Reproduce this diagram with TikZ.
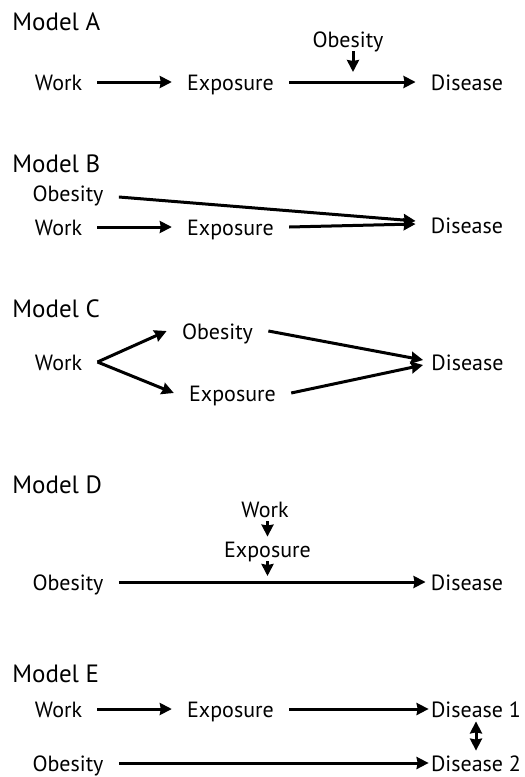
\documentclass[tikz,border=0pt]{standalone}
\usepackage{fontspec}
\setmainfont{PT Sans}
\usetikzlibrary{positioning, arrows.meta}
\tikzstyle{title} = [anchor=base west, inner sep=0pt, font=\fontsize{12.5}{14}\selectfont]
\tikzstyle{var} = [inner xsep=7.5pt, inner ysep=2pt, text height=8pt, text depth=0pt, font=\fontsize{11}{13}\selectfont]
\tikzstyle{arrow} = [line width=1.5pt, -{Stealth[length=6pt,width=6pt,inset=0.5pt]}]
\tikzstyle{dblarrow} = [line width=1.5pt, {Stealth[length=6pt,width=6pt,inset=0.5pt]}-{Stealth[length=6pt,width=6pt,inset=0.5pt]}]

\begin{document}
\begin{tikzpicture}[x=0.5pt, y=-0.5pt]
\useasboundingbox (0,0) rectangle (525,777);

%Model A
\node (tA) [title] at (12,30) {Model A};
\node (wA) [var] at (58.5,82) {Work};
\node (eA) [var] at (230.5,82) {Exposure};
\node (dA) [var] at (467,82) {Disease};
\node (oA) [var] at (348,39) {Obesity};
\coordinate (aA) at (353,72);
\draw [arrow] (wA) -- (eA);
\draw [arrow] (eA) -- (dA);
\draw [arrow] (oA.south -| aA) -- (aA);

%Model B
\node (tB) [title] at (12,172) {Model B};
\node (oB) [var] at (68,193) {Obesity};
\node (wB) [var] at (58.5,227) {Work};
\node (eB) [var] at (230.5,227) {Exposure};
\node (dB) [var] at (467,225) {Disease};
\draw [arrow] (wB) -- (eB);
\draw [arrow] (eB.east) -- ([yshift=0.5pt]dB.west);
\draw [arrow] ([yshift=-2pt]oB.east) -- ([yshift=2pt]dB.west);

%Model C
\node (tC) [title] at (12,317) {Model C};
\node (wC) [var] at (58.5,362) {Work};
\node (oC) [var] at (217.5,331) {Obesity};
\node (eC) [var] at (232.5,393) {Exposure};
\node (dC) [var, inner xsep=4pt] at (467.5,362) {Disease};
\draw [arrow] (wC.east) -- (oC.west);
\draw [arrow] (wC.east) -- (eC.west);
\draw [arrow] (oC.east) -- ([yshift=1pt]dC.west);
\draw [arrow] (eC.east) -- ([yshift=-1.5pt]dC.west);

%Model D
\node (tD) [title] at (12,493) {Model D};
\node (wD) [var] at (265,509) {Work};
\node (eD) [var] at (267.5,549) {Exposure};
\node (oD) [var] at (68,582) {Obesity};
\node (dD) [var, inner xsep=2.5pt] at (467,582) {Disease};
\coordinate (aD) at (267.5,576);
\draw [arrow] (oD) -- (dD);
\draw [arrow] (wD.south -| aD) -- (eD.north -| aD);
\draw [arrow] (eD.south -| aD) -- (aD);

%Model E
\node (tE) [title] at (12,682) {Model E};
\node (wE) [var] at (58.5,709) {Work};
\node (eE) [var] at (230.5,709) {Exposure};
\node (d1E) [var, inner xsep=1pt] at (476,709) {Disease 1};
\node (oE) [var] at (68,763) {Obesity};
\node (d2E) [var, inner xsep=1pt] at (476,763) {Disease 2};
\draw [arrow] (wE) -- (eE);
\draw [arrow] (eE) -- (d1E);
\draw [arrow] (oE) -- (d2E);
\draw [dblarrow] (d1E.south) -- (d2E.north);
\end{tikzpicture}
\end{document}
